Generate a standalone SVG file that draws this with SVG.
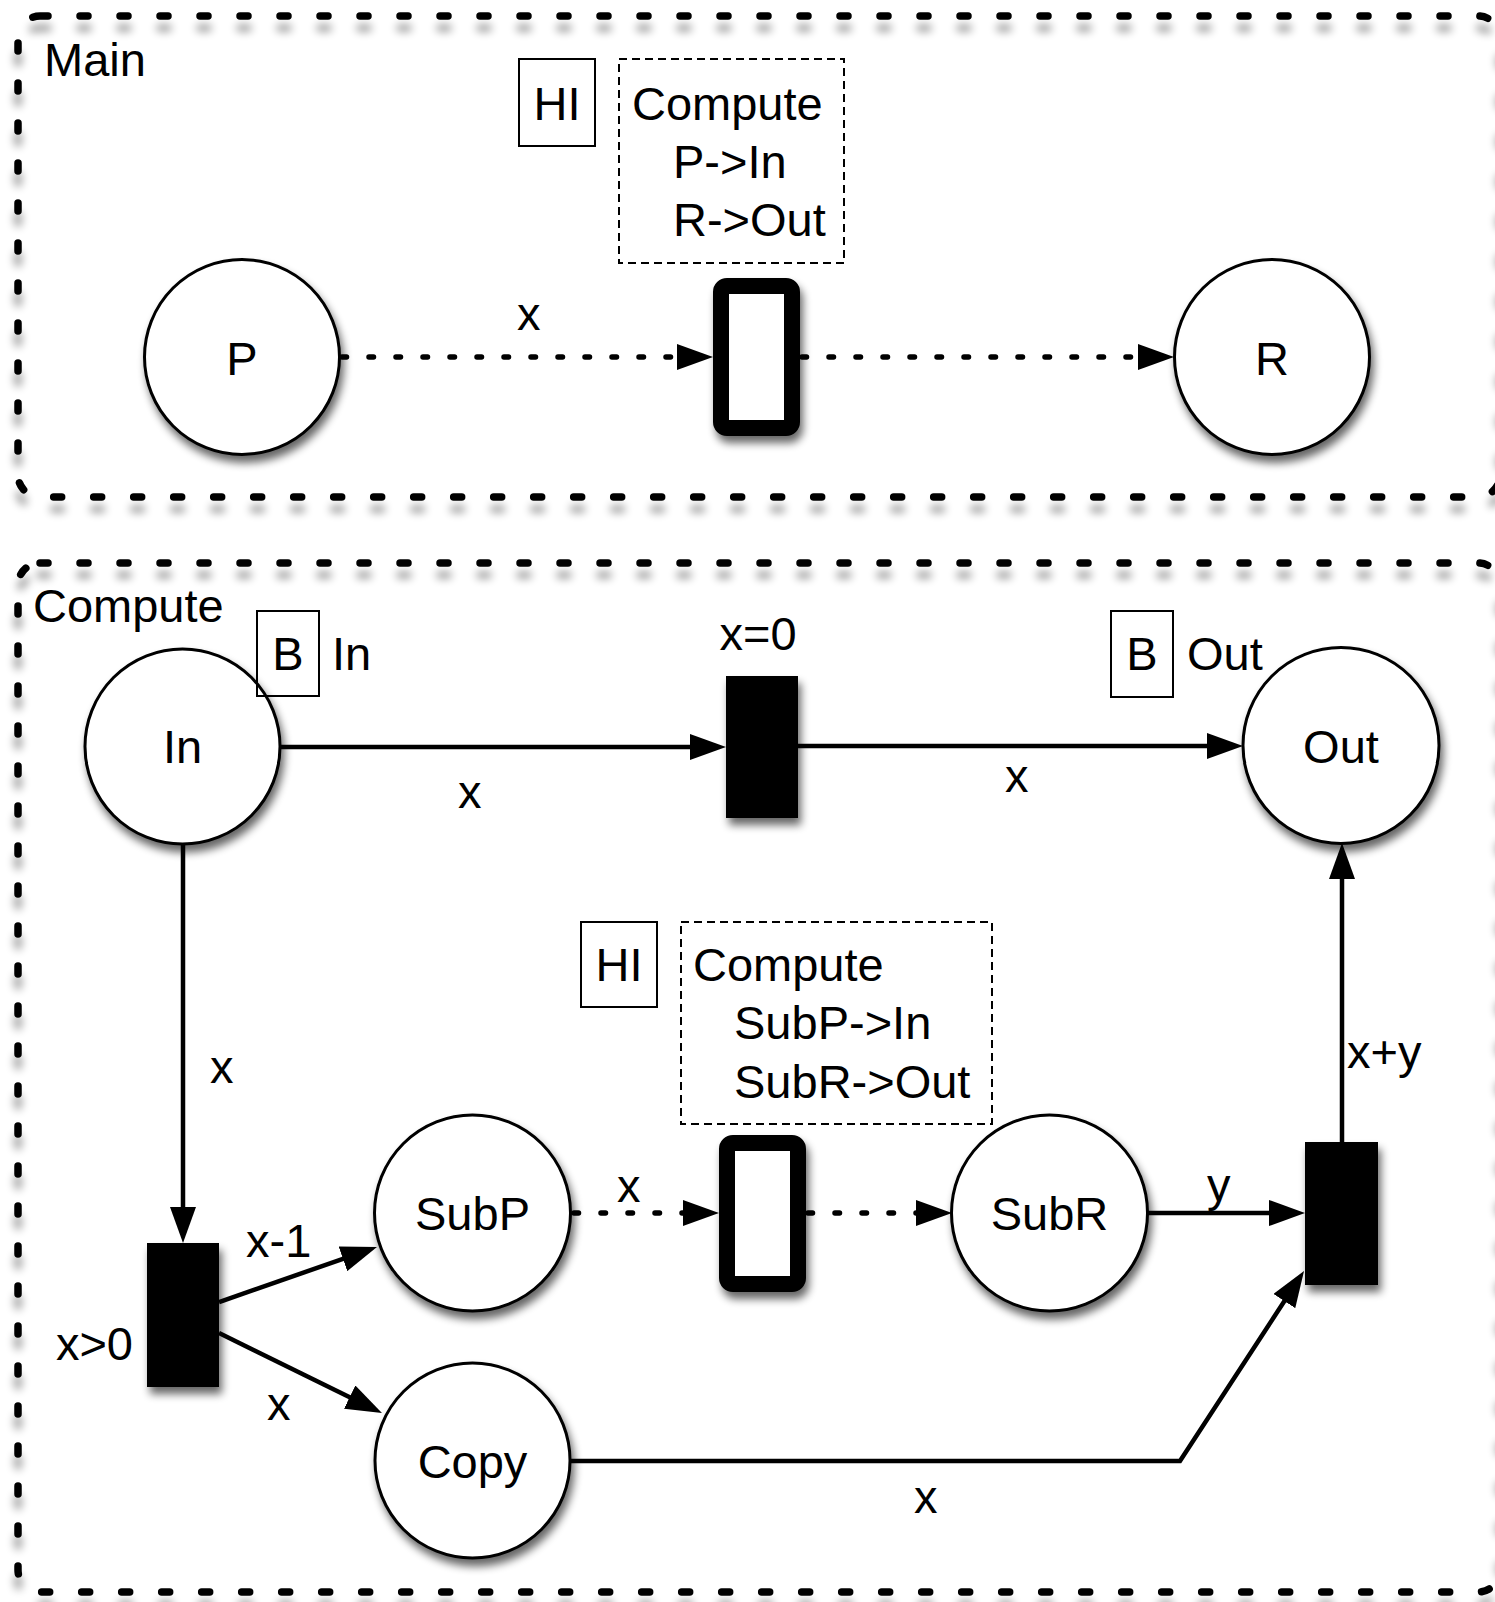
<svg xmlns="http://www.w3.org/2000/svg" width="1495" height="1602" viewBox="0 0 1495 1602">
<defs>
<style>
text{font-family:"Liberation Sans",Arial,sans-serif;font-size:47px;fill:#000}
.mid{text-anchor:middle}
.frame{fill:none;stroke:#000;stroke-width:7.5;stroke-dasharray:8 32;stroke-linecap:round}
.place{fill:#fff;stroke:#000;stroke-width:3}
.sub{fill:#fff;stroke:#000;stroke-width:16}
.tr{fill:#000}
.box{fill:none;stroke:#000;stroke-width:2}
.dbox{fill:none;stroke:#000;stroke-width:2;stroke-dasharray:8 5}
.arc{fill:none;stroke:#000;stroke-width:4.5}
.dot{fill:none;stroke:#000;stroke-width:5.5;stroke-dasharray:4.5 22.5;stroke-linecap:round}
</style>
<marker id="ah" markerUnits="userSpaceOnUse" markerWidth="36" markerHeight="26" refX="16" refY="13" orient="auto">
<path d="M0,0 L36,13 L0,26 z" fill="#000"/>
</marker>
<filter id="sh" x="-30%" y="-30%" width="170%" height="170%">
<feGaussianBlur in="SourceAlpha" stdDeviation="4"/>
<feOffset dx="3" dy="7"/>
<feComponentTransfer><feFuncA type="linear" slope="0.6"/></feComponentTransfer>
<feMerge><feMergeNode/><feMergeNode in="SourceGraphic"/></feMerge>
</filter>
<filter id="fsh" x="-5%" y="-5%" width="110%" height="115%">
<feGaussianBlur in="SourceAlpha" stdDeviation="4.5"/>
<feOffset dx="0" dy="12"/>
<feComponentTransfer><feFuncA type="linear" slope="0.38"/></feComponentTransfer>
<feMerge><feMergeNode/><feMergeNode in="SourceGraphic"/></feMerge>
</filter>
</defs>
<rect width="1495" height="1602" fill="#fff"/>

<g id="frame-main">
<rect class="frame" filter="url(#fsh)" x="18" y="16" width="1482" height="481" rx="22"/>
<text x="44" y="76">Main</text>
</g>
<g id="frame-compute">
<rect class="frame" filter="url(#fsh)" x="18" y="563" width="1482" height="1029" rx="22"/>
<text x="33" y="622">Compute</text>
</g>

<g id="connectors">
<line class="dot" x1="342" y1="357" x2="693" y2="357" marker-end="url(#ah)"/>
<line class="dot" x1="802" y1="357" x2="1154" y2="357" marker-end="url(#ah)"/>
<line class="arc" x1="280" y1="747" x2="706" y2="747" marker-end="url(#ah)"/>
<line class="arc" x1="798" y1="746" x2="1223" y2="746" marker-end="url(#ah)"/>
<line class="arc" x1="183" y1="845" x2="183" y2="1223" marker-end="url(#ah)"/>
<line class="arc" x1="219" y1="1302" x2="358.1" y2="1253.6" marker-end="url(#ah)"/>
<line class="arc" x1="219" y1="1333" x2="364" y2="1404.2" marker-end="url(#ah)"/>
<line class="dot" x1="574" y1="1213" x2="699" y2="1213" marker-end="url(#ah)"/>
<line class="dot" x1="808" y1="1213" x2="932" y2="1213" marker-end="url(#ah)"/>
<line class="arc" x1="1148" y1="1213" x2="1285" y2="1213" marker-end="url(#ah)"/>
<polyline class="arc" points="570,1461 1180,1461 1293.1,1287.7" marker-end="url(#ah)"/>
<line class="arc" x1="1342" y1="1142" x2="1342" y2="863" marker-end="url(#ah)"/>
<text x="517" y="330">x</text>
<text x="458" y="808">x</text>
<text x="1005" y="792">x</text>
<text x="210" y="1083">x</text>
<text x="246" y="1257">x-1</text>
<text x="267" y="1420">x</text>
<text x="617" y="1202">x</text>
<text x="1207" y="1201">y</text>
<text x="1347" y="1068">x+y</text>
<text x="914" y="1513">x</text>
</g>

<g id="P">
<circle class="place" filter="url(#sh)" cx="242" cy="357" r="97.5"/>
<text class="mid" x="242" y="375">P</text>
</g>
<g id="R">
<circle class="place" filter="url(#sh)" cx="1272" cy="357" r="97.5"/>
<text class="mid" x="1272" y="375">R</text>
</g>
<g id="T-main">
<rect class="sub" filter="url(#sh)" x="721" y="286" width="71" height="142" rx="6"/>
</g>
<g id="HI-main">
<rect class="box" x="519" y="59" width="76" height="87"/>
<text class="mid" x="557" y="120">HI</text>
<rect class="dbox" x="619" y="59" width="225" height="204"/>
<text x="632" y="120">Compute</text>
<text x="673" y="178">P-&gt;In</text>
<text x="673" y="236">R-&gt;Out</text>
</g>

<g id="In">
<circle class="place" filter="url(#sh)" cx="182.5" cy="746.5" r="97.5"/>
<text class="mid" x="182.5" y="763">In</text>
<rect class="box" x="257" y="611" width="62" height="85"/>
<text class="mid" x="288" y="670">B</text>
<text x="332" y="670">In</text>
</g>
<g id="T-zero">
<rect class="tr" filter="url(#sh)" x="726" y="676" width="72" height="142"/>
<text class="mid" x="758" y="650">x=0</text>
</g>
<g id="Out">
<circle class="place" filter="url(#sh)" cx="1341" cy="745.5" r="98"/>
<text class="mid" x="1341" y="763">Out</text>
<rect class="box" x="1111" y="611" width="62" height="86"/>
<text class="mid" x="1142" y="670">B</text>
<text x="1187" y="670">Out</text>
</g>
<g id="T-pos">
<rect class="tr" filter="url(#sh)" x="147" y="1243" width="72" height="144"/>
<text x="133" y="1360" style="text-anchor:end">x&gt;0</text>
</g>
<g id="SubP">
<circle class="place" filter="url(#sh)" cx="472.5" cy="1213" r="98"/>
<text class="mid" x="472.5" y="1230">SubP</text>
</g>
<g id="Copy">
<circle class="place" filter="url(#sh)" cx="472.5" cy="1460.5" r="97.5"/>
<text class="mid" x="472.5" y="1478">Copy</text>
</g>
<g id="T-sub">
<rect class="sub" filter="url(#sh)" x="727" y="1143" width="71" height="141" rx="6"/>
</g>
<g id="HI-sub">
<rect class="box" x="581" y="922" width="76" height="85"/>
<text class="mid" x="619" y="981">HI</text>
<rect class="dbox" x="681" y="922" width="311" height="202"/>
<text x="693" y="981">Compute</text>
<text x="734" y="1039">SubP-&gt;In</text>
<text x="734" y="1098">SubR-&gt;Out</text>
</g>
<g id="SubR">
<circle class="place" filter="url(#sh)" cx="1049.5" cy="1213" r="98"/>
<text class="mid" x="1049.5" y="1230">SubR</text>
</g>
<g id="T-sum">
<rect class="tr" filter="url(#sh)" x="1305" y="1142" width="73" height="143"/>
</g>
</svg>
